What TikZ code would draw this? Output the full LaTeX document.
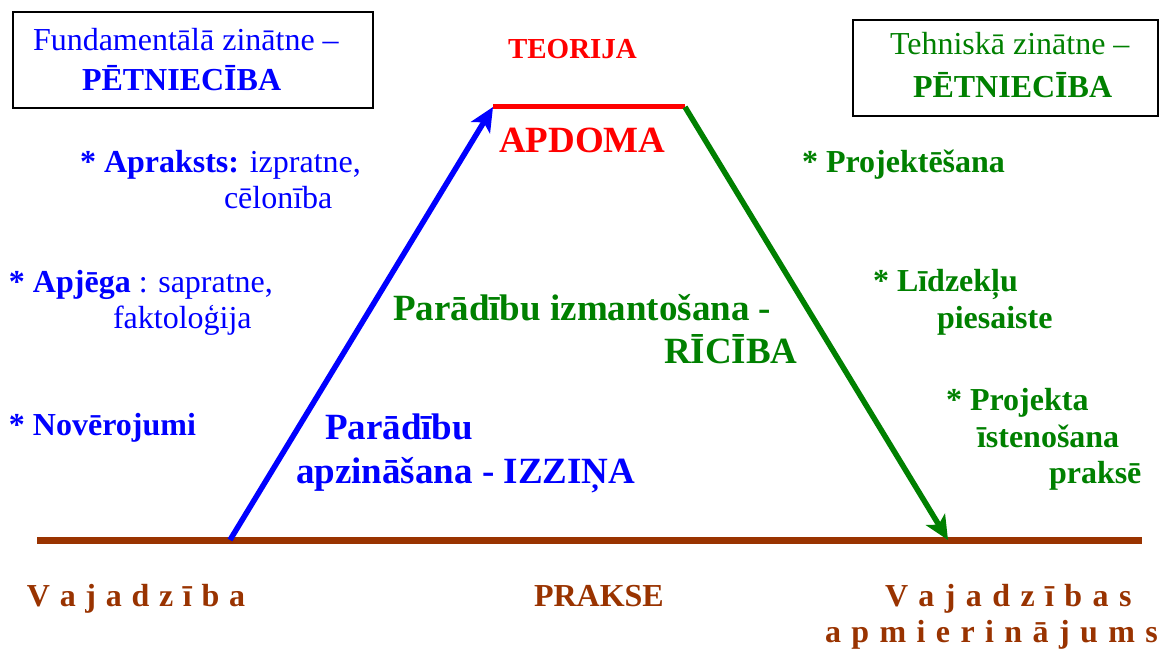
\documentclass[tikz,border=0pt]{standalone}
\usepackage{fontspec}
\setmainfont{Liberation Serif}
\usetikzlibrary{arrows.meta}
\definecolor{myblue}{RGB}{0,0,255}
\definecolor{mygreen}{RGB}{0,128,0}
\definecolor{myred}{RGB}{255,0,0}
\definecolor{mybrown}{RGB}{153,51,0}
\begin{document}
\begin{tikzpicture}[x=1pt,y=-1pt,
  lbl/.style={inner sep=0pt, outer sep=0pt, anchor=base west, font=\fontsize{32}{38}\selectfont},
  bigl/.style={inner sep=0pt, outer sep=0pt, anchor=base west, font=\fontsize{37}{44}\selectfont\bfseries},
  framebox/.style={draw=black, line width=2pt, inner sep=0pt, fill=white},
  spaced/.style={inner sep=0pt, outer sep=0pt, anchor=base west, text=mybrown, font=\fontsize{32}{38}\selectfont\bfseries},
  headtip/.style={-{Stealth[length=24pt,width=22pt,inset=6pt]}}
]
\fill[white] (0,0) rectangle (1160,650);
\useasboundingbox (0,0) rectangle (1160,650);

% boxes
\node[framebox, minimum width=360pt, minimum height=96pt] (fund) at (193,60) {};
\node[lbl, text=myblue] (fund1) at (33,51) {Fundamentālā zinātne –};
\node[lbl, text=myblue] (fund2) at (82,91) {\textbf{PĒTNIECĪBA}};

\node[framebox, minimum width=305pt, minimum height=96pt] (tech) at (1005.5,68) {};
\node[lbl, text=mygreen] (tech1) at (890,55) {Tehniskā zinātne –};
\node[lbl, text=mygreen] (tech2) at (913,98) {\textbf{PĒTNIECĪBA}};

% trapezoid corners
\coordinate (bl) at (230,540);
\coordinate (tl) at (493,107);
\coordinate (tr) at (685,107);
\coordinate (br) at (948,540);
\coordinate (pl) at (37,540);
\coordinate (pr) at (1142,540);

\draw[mybrown, line width=7pt] (pl) -- (pr);
\draw[myred, line width=5pt] (tl) -- (tr);
\draw[myblue, line width=5.5pt, headtip] (bl) -- (tl);
\draw[mygreen, line width=5.5pt, headtip] (tr) -- (br);

% top labels
\node[lbl, text=myred, font=\fontsize{29}{34}\selectfont\bfseries] (teorija) at (508,59) {TEORIJA};
\node[bigl, text=myred] (apdoma) at (499,153) {APDOMA};

% left list
\node[lbl, text=myblue] (apr1) at (80,172) {\textbf{* Apraksts:} izpratne,};
\node[lbl, text=myblue] (apr2) at (224,208) {cēlonība};
\node[lbl, text=myblue] (apj1) at (9,292) {\textbf{* Apjēga} : sapratne,};
\node[lbl, text=myblue] (apj2) at (113,328) {faktoloģija};
\node[lbl, text=myblue] (nov) at (9,435) {\textbf{* Novērojumi}};

% right list
\node[lbl, text=mygreen, font=\fontsize{32}{38}\selectfont\bfseries] (proj) at (802,172) {* Projektēšana};
\node[lbl, text=mygreen, font=\fontsize{32}{38}\selectfont\bfseries] (lid1) at (873,291) {* Līdzekļu};
\node[lbl, text=mygreen, font=\fontsize{32}{38}\selectfont\bfseries] (lid2) at (937,328) {piesaiste};
\node[lbl, text=mygreen, font=\fontsize{32}{38}\selectfont\bfseries] (pr1) at (946,410) {* Projekta};
\node[lbl, text=mygreen, font=\fontsize{32}{38}\selectfont\bfseries] (pr2) at (977,447) {īstenošana};
\node[lbl, text=mygreen, font=\fontsize{32}{38}\selectfont\bfseries] (pr3) at (1049,483) {praksē};

% middle labels
\node[bigl, text=mygreen] (riz1) at (393,320) {Parādību izmantošana -};
\node[bigl, text=mygreen] (riz2) at (664,363) {RĪCĪBA};
\node[bigl, text=myblue] (izz1) at (325,439) {Parādību};
\node[bigl, text=myblue] (izz2) at (296,483) {apzināšana - IZZIŅA};

% bottom labels
\node[spaced] (vaj) at (27,606) {\spaceskip=9.7pt V a j a d z ī b a};
\node[lbl, text=mybrown, font=\fontsize{32}{38}\selectfont\bfseries] (prakse) at (534,606) {PRAKSE};
\node[spaced] (vajs) at (885,606) {\spaceskip=10.4pt V a j a d z ī b a s};
\node[spaced] (apm) at (825,642) {\spaceskip=10.4pt a p m i e r i n ā j u m s};
\end{tikzpicture}
\end{document}
